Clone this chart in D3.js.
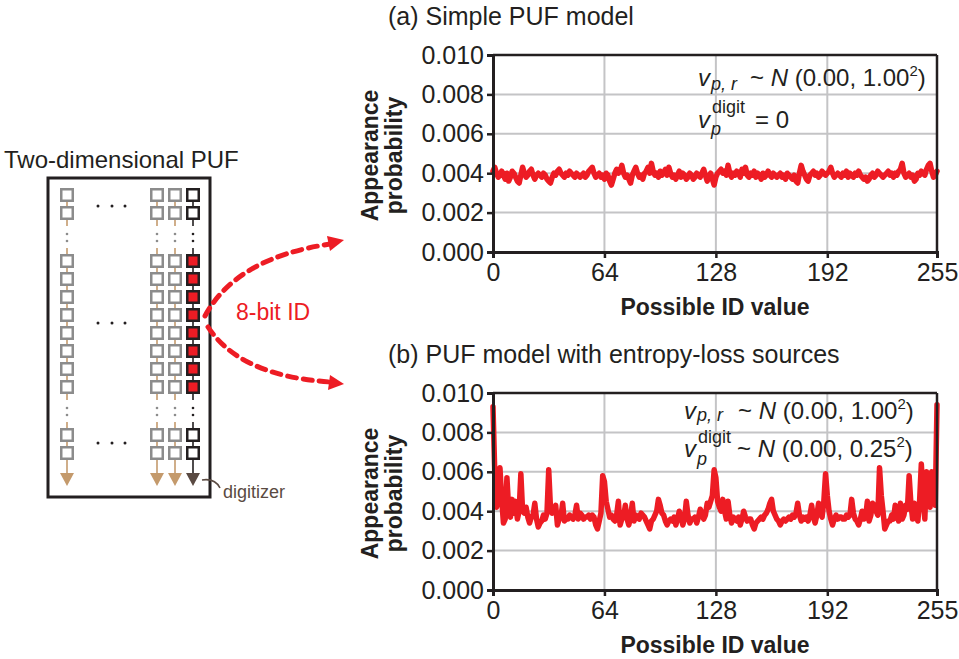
<!DOCTYPE html>
<html><head><meta charset="utf-8">
<script src="https://cdn.jsdelivr.net/npm/d3@7"></script>
<style>
html,body{margin:0;padding:0;background:#fff;}
svg{display:block;font-family:"Liberation Sans",Arial,Helvetica,sans-serif;}
</style></head>
<body><svg id="c" width="959" height="659"></svg>
<script>
// ---------------- DATA ----------------
const idValues = d3.range(256);          // possible ID values 0..255
const xTicks = [0, 64, 128, 192, 255];
const yTicks = [0, 0.002, 0.004, 0.006, 0.008, 0.010];

// (a) Simple PUF model
const simpleProb = [
.0041,.0043,.0040,.0038,.0039,.0041,.0039,.0037,.0040,.0036,.0038,.0041,.0040,.0038,.0036,.0035,
.0039,.0043,.0040,.0038,.0039,.0041,.0042,.0039,.0037,.0039,.0040,.0039,.0038,.0040,.0039,.0037,
.0036,.0035,.0038,.0040,.0039,.0041,.0042,.0040,.0039,.0038,.0040,.0039,.0041,.0040,.0039,.0038,
.0040,.0039,.0038,.0039,.0040,.0038,.0039,.0041,.0042,.0043,.0040,.0038,.0039,.0040,.0038,.0039,
.0037,.0040,.0039,.0036,.0034,.0037,.0040,.0042,.0040,.0041,.0044,.0040,.0038,.0039,.0037,.0035,
.0039,.0041,.0043,.0040,.0038,.0039,.0037,.0040,.0041,.0043,.0040,.0045,.0041,.0039,.0040,.0038,
.0041,.0039,.0040,.0042,.0039,.0043,.0040,.0038,.0039,.0037,.0039,.0041,.0038,.0040,.0039,.0037,
.0038,.0040,.0039,.0037,.0038,.0040,.0039,.0038,.0040,.0042,.0039,.0036,.0038,.0040,.0037,.0034,
.0038,.0040,.0041,.0042,.0040,.0041,.0039,.0044,.0040,.0038,.0040,.0039,.0041,.0040,.0038,.0042,
.0040,.0043,.0039,.0038,.0040,.0039,.0041,.0038,.0040,.0039,.0037,.0040,.0038,.0039,.0041,.0039,
.0038,.0040,.0039,.0038,.0039,.0040,.0038,.0039,.0037,.0040,.0039,.0038,.0037,.0039,.0036,.0035,
.0040,.0044,.0041,.0039,.0037,.0036,.0039,.0040,.0041,.0039,.0040,.0038,.0039,.0041,.0040,.0039,
.0040,.0041,.0043,.0040,.0038,.0039,.0040,.0039,.0038,.0040,.0039,.0041,.0038,.0040,.0039,.0038,
.0040,.0039,.0041,.0039,.0038,.0037,.0038,.0036,.0037,.0039,.0040,.0038,.0039,.0041,.0040,.0039,
.0038,.0039,.0040,.0041,.0039,.0040,.0038,.0040,.0039,.0041,.0042,.0045,.0040,.0038,.0039,.0040,
.0038,.0039,.0036,.0037,.0040,.0039,.0041,.0040,.0039,.0042,.0044,.0045,.0041,.0038,.0039,.0041
];

// (b) PUF model with entropy-loss sources
const entropyLossProb = [
.0093,.0060,.0042,.0045,.0062,.0046,.0034,.0036,.0057,.0041,.0037,.0046,.0039,.0045,.0036,.0040,
.0059,.0040,.0039,.0042,.0037,.0034,.0037,.0038,.0044,.0036,.0032,.0034,.0035,.0038,.0036,.0039,
.0061,.0042,.0039,.0040,.0043,.0033,.0036,.0037,.0044,.0035,.0036,.0036,.0038,.0037,.0036,.0038,
.0043,.0036,.0039,.0038,.0036,.0037,.0037,.0038,.0036,.0038,.0037,.0033,.0031,.0035,.0039,.0058,
.0055,.0045,.0041,.0037,.0038,.0036,.0035,.0038,.0045,.0033,.0036,.0037,.0043,.0036,.0033,.0037,
.0044,.0035,.0038,.0037,.0036,.0039,.0038,.0037,.0035,.0033,.0031,.0035,.0036,.0038,.0040,.0046,
.0043,.0039,.0038,.0035,.0033,.0035,.0036,.0035,.0037,.0033,.0036,.0040,.0037,.0033,.0036,.0045,
.0038,.0034,.0036,.0036,.0037,.0034,.0037,.0041,.0039,.0036,.0038,.0044,.0042,.0045,.0048,.0061,
.0057,.0045,.0042,.0040,.0046,.0040,.0036,.0045,.0038,.0034,.0037,.0036,.0035,.0037,.0033,.0036,
.0040,.0037,.0035,.0036,.0036,.0033,.0031,.0034,.0035,.0036,.0037,.0036,.0038,.0039,.0041,.0044,
.0046,.0040,.0038,.0036,.0035,.0033,.0035,.0036,.0035,.0036,.0037,.0036,.0038,.0037,.0039,.0044,
.0038,.0035,.0037,.0036,.0037,.0035,.0038,.0043,.0037,.0034,.0038,.0044,.0039,.0037,.0045,.0059,
.0048,.0040,.0036,.0033,.0036,.0038,.0036,.0037,.0037,.0036,.0036,.0038,.0037,.0038,.0046,.0039,
.0036,.0035,.0033,.0036,.0040,.0036,.0037,.0045,.0035,.0038,.0044,.0043,.0040,.0038,.0062,.0048,
.0040,.0031,.0033,.0035,.0035,.0038,.0036,.0043,.0039,.0035,.0044,.0036,.0038,.0043,.0041,.0058,
.0044,.0036,.0044,.0038,.0035,.0045,.0064,.0047,.0036,.0060,.0048,.0042,.0060,.0048,.0043,.0094
];

// ---------------- DRAW ----------------
const svg = d3.select("#c");
const RED = "#ed1c24", INK = "#231f20", GRID = "#c4c4c6";

function chart(o){
  const x = d3.scaleLinear().domain([0,255]).range([493,937]);
  const y = d3.scaleLinear().domain([0,0.010]).range([o.bottom,o.top]);
  const g = svg.append("g");

  g.append("text").attr("x",388).attr("y",o.top-30).attr("font-size",25).attr("fill",INK).text(o.title);

  // grid
  g.selectAll(".gy").data(yTicks.slice(1,-1)).join("line")
    .attr("x1",x(0)).attr("x2",x(255)).attr("y1",d=>y(d)).attr("y2",d=>y(d))
    .attr("stroke",GRID).attr("stroke-width",2);
  g.selectAll(".gx").data(xTicks.slice(1,-1)).join("line")
    .attr("x1",d=>x(d)).attr("x2",d=>x(d)).attr("y1",y(0)).attr("y2",y(0.010))
    .attr("stroke",GRID).attr("stroke-width",2);

  // annotations
  const a = g.append("g").attr("fill",INK).attr("font-size",24);
  const an = o.ann;
  a.append("text").attr("x",an.v).attr("y",an.b1).attr("font-style","italic").text("v");
  a.append("text").attr("x",an.sub).attr("y",an.s1).attr("font-style","italic").attr("font-size",18).text("p, r");
  const t1b = a.append("text").attr("x",an.t1).attr("y",an.b1);
  t1b.append("tspan").text("~ ");
  t1b.append("tspan").attr("font-style","italic").text("N");
  t1b.append("tspan").text(" (0.00, 1.00");
  t1b.append("tspan").attr("font-size",15).attr("dy",-10).text("2");
  t1b.append("tspan").attr("dy",10).text(")");

  a.append("text").attr("x",an.v).attr("y",an.b2).attr("font-style","italic").text("v");
  a.append("text").attr("x",an.sub).attr("y",an.s2).attr("font-style","italic").attr("font-size",18).text("p");
  a.append("text").attr("x",an.sub+1).attr("y",an.bd).attr("font-size",18).text("digit");
  const t2 = a.append("text").attr("x",an.t2).attr("y",an.b2);
  o.line2(t2);

  // series
  g.append("path").datum(o.data)
    .attr("d", d3.line().x((d,i)=>x(idValues[i])).y(d=>y(d)))
    .attr("fill","none").attr("stroke",RED).attr("stroke-width",5.5)
    .attr("stroke-linejoin","round").attr("stroke-linecap","round");

  // frame top/right
  g.append("line").attr("x1",x(0)).attr("x2",x(255)).attr("y1",y(0.010)).attr("y2",y(0.010)).attr("stroke",INK).attr("stroke-width",2.5);
  g.append("line").attr("x1",x(255)).attr("x2",x(255)).attr("y1",y(0.010)).attr("y2",y(0)).attr("stroke",INK).attr("stroke-width",2.5);

  // axes
  const ay = g.append("g").attr("transform",`translate(${x(0)},0)`)
    .call(d3.axisLeft(y).tickValues(yTicks).tickFormat(d3.format(".3f")).tickSize(6).tickPadding(3));
  const ax = g.append("g").attr("transform",`translate(0,${y(0)})`)
    .call(d3.axisBottom(x).tickValues(xTicks).tickSize(6).tickPadding(5));
  [ax,ay].forEach(a=>{
    a.select(".domain").attr("stroke",INK).attr("stroke-width",3);
    a.selectAll(".tick line").attr("stroke",INK).attr("stroke-width",2.5);
    a.selectAll(".tick text").attr("font-size",25).attr("fill",INK)
      .attr("font-family","'Liberation Sans',Arial,sans-serif");
  });

  // axis titles
  g.append("text").attr("x",715).attr("y",y(0)+63).attr("text-anchor","middle")
    .attr("font-size",23).attr("font-weight","bold").attr("fill",INK).text("Possible ID value");
  const cy = (y(0)+y(0.010))/2 + 2;
  g.append("text").attr("transform",`translate(378,${cy}) rotate(-90)`).attr("text-anchor","middle")
    .attr("font-size",23).attr("font-weight","bold").attr("fill",INK).text("Appearance");
  g.append("text").attr("transform",`translate(402,${cy}) rotate(-90)`).attr("text-anchor","middle")
    .attr("font-size",23).attr("font-weight","bold").attr("fill",INK).text("probability");
}

chart({top:55, bottom:252, data:simpleProb, title:"(a) Simple PUF model",
  ann:{v:698, sub:711, t1:750, b1:86, s1:90, b2:128, s2:135, bd:113, t2:755},
  line2:t=>t.text("= 0")});
chart({top:393, bottom:590, data:entropyLossProb, title:"(b) PUF model with entropy-loss sources",
  ann:{v:684, sub:697, t1:738, b1:419, s1:421, b2:457, s2:465, bd:443, t2:737},
  line2:t=>{ t.append("tspan").text("~ "); t.append("tspan").attr("font-style","italic").text("N");
    t.append("tspan").text(" (0.00, 0.25"); t.append("tspan").attr("font-size",15).attr("dy",-10).text("2");
    t.append("tspan").attr("dy",10).text(")"); }});

// ---------------- PUF DIAGRAM ----------------
const TAN = "#c49a6c", GRAYSQ = "#8c8c8c", BROWN = "#5a4a42";
const d = svg.append("g");
d.append("text").attr("x",4).attr("y",168).attr("font-size",24).attr("fill",INK).text("Two-dimensional PUF");
d.append("rect").attr("x",48).attr("y",178).attr("width",162).attr("height",319)
  .attr("fill","none").attr("stroke",INK).attr("stroke-width",3);

const cols = [{x:67,k:"g"},{x:157,k:"g"},{x:175,k:"g"},{x:193,k:"b"}];
const grp1 = [195,213], grp2 = [261,279,297,315,333,351,369,387], grp3 = [435,453];
const S = 11.5;
cols.forEach(c=>{
  const lc = c.k==="b" ? INK : TAN, dc = c.k==="b" ? INK : "#8c8c8c";
  const seg = (y1,y2)=>d.append("line").attr("x1",c.x).attr("x2",c.x).attr("y1",y1).attr("y2",y2).attr("stroke",lc).attr("stroke-width",1.6);
  seg(195,213); seg(213,226); seg(248,261); seg(261,387); seg(387,400); seg(422,435); seg(435,453); seg(453,474);
  [234,241,408,415].forEach(yy=>d.append("circle").attr("cx",c.x).attr("cy",yy).attr("r",1.3).attr("fill",dc));
  const sq = (yy,fill,stroke)=>d.append("rect").attr("x",c.x-S/2).attr("y",yy-S/2).attr("width",S).attr("height",S)
    .attr("fill",fill).attr("stroke",stroke).attr("stroke-width",2.5);
  grp1.concat(grp3).forEach(yy=>sq(yy,"#fff",c.k==="b"?INK:GRAYSQ));
  grp2.forEach(yy=>sq(yy,c.k==="b"?RED:"#fff",c.k==="b"?INK:GRAYSQ));
  d.append("path").attr("d",`M${c.x-7},473 L${c.x+7},473 L${c.x},486 Z`).attr("fill",c.k==="b"?BROWN:TAN);
});
[206,323,443].forEach(yy=>[98,112,125].forEach(xx=>d.append("circle").attr("cx",xx).attr("cy",yy).attr("r",1.5).attr("fill",INK)));

// digitizer label
d.append("path").attr("d","M202,480 Q215,478 220,488").attr("fill","none").attr("stroke",BROWN).attr("stroke-width",1.6);
d.append("text").attr("x",223).attr("y",498).attr("font-size",18).attr("fill",BROWN).text("digitizer");

// 8-bit ID + dashed arrows
d.append("text").attr("x",236).attr("y",320).attr("font-size",23).attr("fill",RED).text("8-bit ID");
d.append("path").attr("d","M205,316 Q236,258 330,244").attr("fill","none").attr("stroke",RED)
  .attr("stroke-width",5).attr("stroke-dasharray","9,7").attr("stroke-linecap","round");
d.append("path").attr("d","M208,327 Q240,376 330,382").attr("fill","none").attr("stroke",RED)
  .attr("stroke-width",5).attr("stroke-dasharray","9,7").attr("stroke-linecap","round");
d.append("path").attr("d","M344,240 L327,236 L330,251 Z").attr("fill",RED);
d.append("path").attr("d","M344,384 L330,375 L328,390 Z").attr("fill",RED);
</script></body></html>
